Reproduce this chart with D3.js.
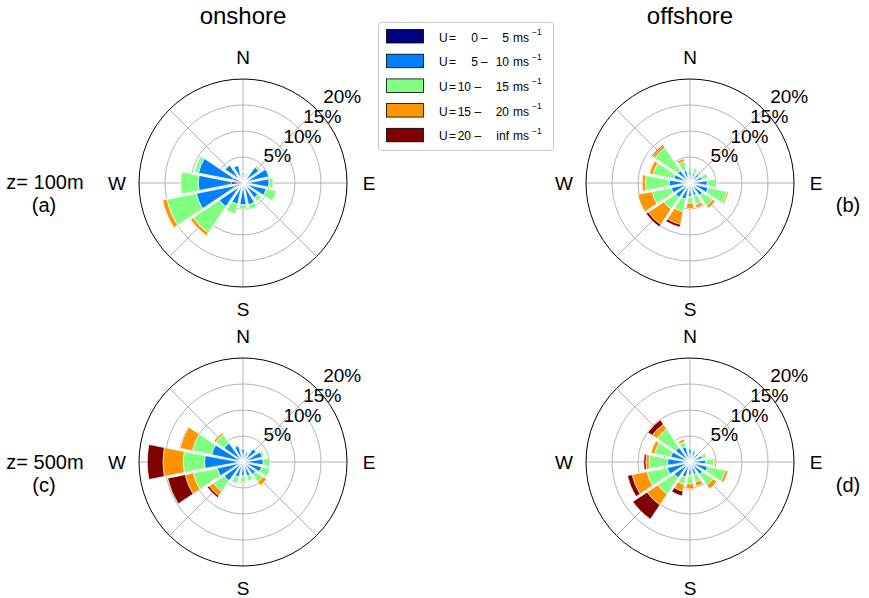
<!DOCTYPE html>
<html><head><meta charset="utf-8">
<script src="https://cdn.jsdelivr.net/npm/d3@7"></script>
<style>
body{margin:0;background:#fff}
svg{display:block}
text{font-family:"Liberation Sans",Arial,Helvetica,sans-serif;fill:#000}
</style>
</head><body>
<svg id="chart" width="869" height="598"></svg>
<script>
// ---------- data ----------
const directions = ["N","NNE","NE","ENE","E","ESE","SE","SSE","S","SSW","SW","WSW","W","WNW","NW","NNW"];
const speedFrom = ["0","5","10","15","20"];
const speedTo = ["5","10","15","20","inf"];
const ringTicks = [5, 10, 15, 20];
const columnTitles = ["onshore", "offshore"];
const rowLabels = ["z= 100m", "z= 500m"];
const panelTags = ["(a)", "(b)", "(c)", "(d)"];
const compass = ["N", "E", "S", "W"];

// frequency (%) per direction, one array per speed bin: 0-5, 5-10, 10-15, 15-20, 20-inf
const onshore100 = [
  [0.7,0.7,0.7,0.8,0.8,0.8,0.7,0.7,0.7,0.8,1.0,1.8,2.3,2.0,1.2,1.0],
  [1.3,1.1,3.1,4.3,4.2,3.8,2.9,3.6,3.5,3.4,4.6,7.4,6.3,6.8,3.1,2.5],
  [0.2,0.2,0.4,0.2,0.8,2.0,0.8,0.9,0.8,1.9,6.1,5.8,3.4,0.8,0.2,0.1],
  [0,0,0,0,0,0.1,0,0,0,0,0.6,0.8,0,0,0,0],
  [0,0,0,0,0,0,0,0,0,0,0,0,0,0,0,0]
];
const offshore100 = [
  [0.6,0.6,0.6,0.6,0.7,0.7,0.6,0.6,0.6,0.6,0.7,0.7,0.8,0.7,0.6,0.6],
  [1.6,1.4,1.6,1.9,2.6,2.9,2.4,1.9,2.0,2.6,2.8,3.0,3.2,2.5,2.4,1.9],
  [0.7,0.9,0.7,1.1,1.8,3.7,2.4,1.8,1.3,2.5,2.7,3.8,4.6,4.1,5.3,1.8],
  [0,0,0,0,0,0.3,0.6,0.6,1.0,2.5,3.6,2.8,0.6,0.7,0.5,0.5],
  [0,0,0,0,0,0,0,0,0,0.5,0.5,0,0,0,0.2,0]
];
const onshore500 = [
  [0.5,0.5,0.5,0.5,0.5,0.5,0.5,0.5,0.5,0.5,0.5,0.6,0.6,0.5,0.5,0.5],
  [2.0,1.5,2.7,3.3,3.4,3.2,2.5,2.3,2.1,2.5,4.0,4.5,6.8,5.7,4.0,2.7],
  [0.1,0.1,0.1,0.4,1.3,1.6,1.8,1.0,1.3,1.2,2.5,4.7,4.1,3.8,2.0,0.3],
  [0,0,0,0,0,0,0.8,0,0.2,0,1.0,1.6,3.9,2.4,0.4,0],
  [0,0,0,0,0,0,0,0,0,0,0.4,3.4,3.0,0.1,0,0]
];
const offshore500 = [
  [0.5,0.5,0.5,0.5,0.5,0.6,0.5,0.5,0.5,0.5,0.6,0.6,0.6,0.5,0.5,0.5],
  [2.0,1.7,1.5,2.0,2.5,2.9,2.5,2.0,2.0,2.5,3.2,3.9,3.7,3.3,3.0,2.5],
  [0.3,0.3,0.3,0.8,1.6,3.5,2.5,1.5,1.7,1.5,3.8,4.0,3.6,3.2,4.3,1.0],
  [0,0,0,0,0.2,0.5,0.9,0.8,1.0,1.3,2.5,2.9,0.6,0.7,1.1,0.5],
  [0,0,0,0,0,0,0,0,0.1,0.9,3.3,0.9,0.4,0,1.0,0]
];

// ---------- style / layout ----------
const binColors = ["#000080", "#0080ff", "#80ff80", "#ff9400", "#800000"];
const R = 104;
const rScale = d3.scaleLinear().domain([0, 20]).range([0, R]);
const panels = [
  {data: onshore100, cx: 243, cy: 183},
  {data: offshore100, cx: 690, cy: 183},
  {data: onshore500, cx: 243, cy: 462},
  {data: offshore500, cx: 690, cy: 462}
];

const svg = d3.select("#chart");
svg.append("rect").attr("width", 869).attr("height", 598).attr("fill", "#fff");

const keys = d3.range(binColors.length).map(k => "b" + k);
const arc = d3.arc().padAngle(0.03).padRadius(80);
const step = 360 / directions.length;

panels.forEach((p, pi) => {
  const g = svg.append("g").attr("transform", `translate(${p.cx},${p.cy})`);

  // grid rings
  g.selectAll("circle.ring").data(ringTicks.slice(0, -1)).join("circle")
    .attr("class", "ring").attr("r", d => rScale(d))
    .attr("fill", "none").attr("stroke", "#b4b4b4").attr("stroke-width", 1);
  // spokes
  g.selectAll("line.spoke").data(d3.range(0, 360, 45)).join("line")
    .attr("class", "spoke")
    .attr("x1", 0).attr("y1", 0)
    .attr("x2", a => R * Math.sin(a * Math.PI / 180))
    .attr("y2", a => -R * Math.cos(a * Math.PI / 180))
    .attr("stroke", "#b4b4b4").attr("stroke-width", 1);

  // stacked bars
  const rows = directions.map((d, i) => {
    const o = {dir: d, angle: i * step};
    p.data.forEach((arr, k) => o["b" + k] = arr[i]);
    return o;
  });
  const series = d3.stack().keys(keys)(rows);
  series.forEach((layer, k) => {
    g.append("g").selectAll("path")
      .data(layer.filter(s => s[1] - s[0] > 0))
      .join("path")
      .attr("d", s => arc({
        innerRadius: rScale(s[0]),
        outerRadius: rScale(s[1]),
        startAngle: (s.data.angle - step / 2) * Math.PI / 180,
        endAngle: (s.data.angle + step / 2) * Math.PI / 180
      }))
      .attr("fill", binColors[k])
      .attr("stroke", "#fff").attr("stroke-width", 0.6);
  });

  // outer circle
  g.append("circle").attr("r", rScale(20)).attr("fill", "none")
    .attr("stroke", "#000").attr("stroke-width", 1);

  // ring labels
  g.selectAll("text.tick").data(ringTicks).join("text")
    .attr("class", "tick")
    .attr("x", d => (rScale(d) * 1.08 + 1) * Math.SQRT1_2)
    .attr("y", d => -(rScale(d) * 1.08 + 1) * Math.SQRT1_2)
    .attr("font-size", 19)
    .text(d => d + "%");

  // compass labels
  g.selectAll("text.cmp").data(compass).join("text")
    .attr("class", "cmp")
    .attr("x", (d, i) => 126 * Math.sin(i * Math.PI / 2))
    .attr("y", (d, i) => -126 * Math.cos(i * Math.PI / 2))
    .attr("text-anchor", "middle").attr("dominant-baseline", "central")
    .attr("font-size", 19)
    .text(d => d);
});

// column titles
svg.selectAll("text.title").data(columnTitles).join("text")
  .attr("class", "title")
  .attr("x", (d, i) => panels[i].cx).attr("y", 24)
  .attr("text-anchor", "middle").attr("font-size", 24)
  .text(d => d);

// row labels
svg.selectAll("text.row").data(rowLabels).join("text")
  .attr("class", "row")
  .attr("x", 45).attr("y", (d, i) => 189 + i * 280)
  .attr("text-anchor", "middle").attr("font-size", 20)
  .text(d => d);

// panel tags
svg.selectAll("text.tag").data(panelTags).join("text")
  .attr("class", "tag")
  .attr("x", (d, i) => i % 2 === 0 ? 44 : 848)
  .attr("y", (d, i) => 212 + Math.floor(i / 2) * 280)
  .attr("text-anchor", "middle").attr("font-size", 20)
  .text(d => d);

// legend
const lg = svg.append("g");
lg.append("rect").attr("x", 378.5).attr("y", 22.5).attr("width", 175).attr("height", 128)
  .attr("rx", 3).attr("fill", "#fff").attr("stroke", "#c8c8c8").attr("stroke-width", 1);
const items = lg.selectAll("g.item").data(speedFrom).join("g")
  .attr("class", "item")
  .attr("transform", (d, i) => `translate(0,${29 + i * 24.7})`);
items.append("rect").attr("x", 386.5).attr("y", 0.5).attr("width", 37).attr("height", 13.5)
  .attr("fill", (d, i) => binColors[i]).attr("stroke", "#000").attr("stroke-width", 0.8);
items.append("text").attr("x", 439).attr("y", 12.5).attr("font-size", 12).text("U");
items.append("text").attr("x", 449).attr("y", 12.5).attr("font-size", 12).text("=");
items.append("text").attr("x", d => d.length === 1 ? 478 : 471).attr("y", 12.5)
  .attr("text-anchor", "end").attr("font-size", 12).text(d => d);
items.append("text").attr("x", d => d.length === 1 ? 481 : 474.5).attr("y", 12.5)
  .attr("font-size", 12).text("\u2013");
items.append("text").attr("x", 509).attr("y", 12.5)
  .attr("text-anchor", "end").attr("font-size", 12).text((d, i) => speedTo[i]);
items.append("text").attr("x", 513).attr("y", 12.5).attr("font-size", 12).text("ms");
items.append("text").attr("x", 532).attr("y", 6).attr("font-size", 8.5).text("\u22121");
</script>
</body></html>
